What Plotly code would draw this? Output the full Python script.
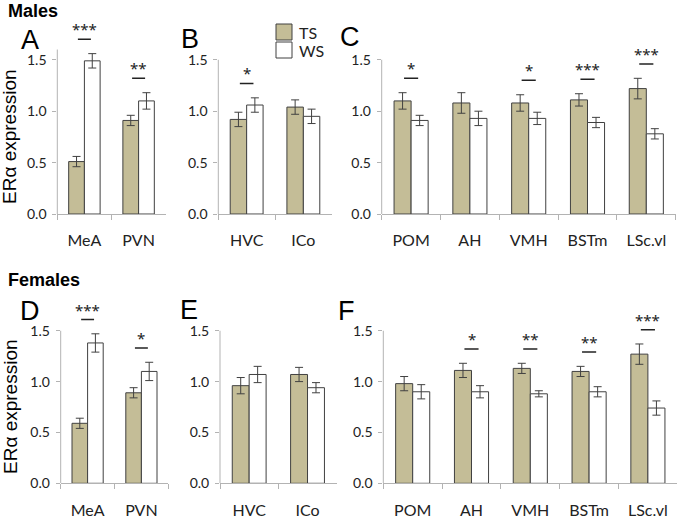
import plotly.graph_objects as go

# ---- data ----
# Males
cats_A = ["MeA", "PVN"]
ts_A = [0.51, 0.91]
ts_err_A = [0.05, 0.05]
ws_A = [1.49, 1.10]
ws_err_A = [0.07, 0.08]
sig_A = ["***", "**"]

cats_B = ["HVC", "ICo"]
ts_B = [0.92, 1.04]
ts_err_B = [0.07, 0.07]
ws_B = [1.06, 0.95]
ws_err_B = [0.07, 0.07]
sig_B = ["*", ""]

cats_C = ["POM", "AH", "VMH", "BSTm", "LSc.vl"]
ts_C = [1.10, 1.08, 1.08, 1.11, 1.22]
ts_err_C = [0.08, 0.10, 0.08, 0.06, 0.10]
ws_C = [0.91, 0.93, 0.93, 0.89, 0.78]
ws_err_C = [0.05, 0.07, 0.06, 0.05, 0.05]
sig_C = ["*", "", "*", "***", "***"]

# Females
cats_D = ["MeA", "PVN"]
ts_D = [0.59, 0.89]
ts_err_D = [0.05, 0.05]
ws_D = [1.38, 1.10]
ws_err_D = [0.09, 0.09]
sig_D = ["***", "*"]

cats_E = ["HVC", "ICo"]
ts_E = [0.96, 1.07]
ts_err_E = [0.08, 0.07]
ws_E = [1.07, 0.94]
ws_err_E = [0.08, 0.05]
sig_E = ["", ""]

cats_F = ["POM", "AH", "VMH", "BSTm", "LSc.vl"]
ts_F = [0.98, 1.11, 1.13, 1.10, 1.27]
ts_err_F = [0.07, 0.07, 0.05, 0.05, 0.10]
ws_F = [0.90, 0.90, 0.88, 0.90, 0.74]
ws_err_F = [0.07, 0.06, 0.03, 0.05, 0.07]
sig_F = ["", "*", "**", "**", "***"]

yticks = [0, 0.5, 1.0, 1.5]

# ---- styling / layout ----
W, H = 680, 521
TS_COLOR = "#C4BD97"
WS_COLOR = "#FFFFFF"
EDGE = "#404040"
AXIS = "#B3B3B3"
TICKFONT = "Lato, Arial, sans-serif"
STARFONT = "Noto Sans, Arial, sans-serif"
ARIAL = "Liberation Sans, Arial, sans-serif"


def px_x(px):
    return px / W


def px_y(py):
    return 1 - py / H


# (letter, data, x domain px, y-zero px, px per unit, axis top value)
panels = [
    ("A", (cats_A, ts_A, ts_err_A, ws_A, ws_err_A, sig_A), (57.3, 165.7), 214.0, 102.8, 1.6),
    ("B", (cats_B, ts_B, ts_err_B, ws_B, ws_err_B, sig_B), (218.3, 331.7), 214.0, 102.8, 1.5),
    ("C", (cats_C, ts_C, ts_err_C, ws_C, ws_err_C, sig_C), (381.7, 675.7), 214.0, 102.8, 1.5),
    ("D", (cats_D, ts_D, ts_err_D, ws_D, ws_err_D, sig_D), (60.7, 168.3), 483.3, 101.7, 1.5),
    ("E", (cats_E, ts_E, ts_err_E, ws_E, ws_err_E, sig_E), (220.0, 336.7), 483.3, 101.7, 1.5),
    ("F", (cats_F, ts_F, ts_err_F, ws_F, ws_err_F, sig_F), (383.3, 677.3), 483.3, 101.7, 1.5),
]
letter_pos = {"A": (30, 40), "B": (190, 39), "C": (350, 37),
              "D": (30, 311), "E": (189, 310), "F": (346, 311)}

YMAX = 2.0

fig = go.Figure()
layout = dict(
    width=W, height=H, autosize=False,
    margin=dict(l=0, r=0, t=0, b=0),
    paper_bgcolor="white", plot_bgcolor="white",
    barmode="group", bargap=0.42, bargroupgap=0,
    showlegend=False,
)
shapes = []
annotations = []


def paper_text(x, y, text, font, **kw):
    d = dict(x=px_x(x), y=px_y(y), xref="paper", yref="paper", text=text,
             showarrow=False, xanchor="center", yanchor="middle", font=font)
    d.update(kw)
    annotations.append(d)


for i, (letter, data, xdom, y0px, scale, ytop) in enumerate(panels, start=1):
    cats, ts, ts_err, ws, ws_err, sig = data
    xa = "x" if i == 1 else f"x{i}"
    ya = "y" if i == 1 else f"y{i}"
    err_style = dict(type="data", color=EDGE, thickness=1, width=4)

    fig.add_trace(go.Bar(
        x=cats, y=ts, name="TS", xaxis=xa, yaxis=ya,
        marker=dict(color=TS_COLOR, line=dict(color=EDGE, width=1)),
        error_y=dict(array=ts_err, **err_style),
    ))
    fig.add_trace(go.Bar(
        x=cats, y=ws, name="WS", xaxis=xa, yaxis=ya,
        marker=dict(color=WS_COLOR, line=dict(color=EDGE, width=1)),
        error_y=dict(array=ws_err, **err_style),
    ))

    ydom = [px_y(y0px), px_y(y0px - YMAX * scale)]
    layout["xaxis" if i == 1 else f"xaxis{i}"] = dict(
        domain=[px_x(xdom[0]), px_x(xdom[1])],
        anchor=ya, type="category",
        showline=True, linecolor=AXIS, linewidth=1,
        ticks="outside", tickson="boundaries", ticklen=5, tickcolor=AXIS,
        showgrid=False, zeroline=False,
        tickfont=dict(family=TICKFONT, size=16, color="#222"),
        ticklabelstandoff=12, automargin=False, fixedrange=True,
    )
    layout["yaxis" if i == 1 else f"yaxis{i}"] = dict(
        domain=ydom, anchor=xa, range=[0, YMAX],
        showline=False, showgrid=False, zeroline=False,
        tickvals=yticks, tickformat=".1f",
        ticks="outside", ticklen=4, tickcolor=AXIS,
        tickfont=dict(family=TICKFONT, size=14, color="#222"),
        ticklabelstandoff=3, automargin=False, fixedrange=True,
    )
    # y axis line only up to the labelled top
    shapes.append(dict(type="line", xref=f"{xa} domain", yref=ya,
                       x0=0, x1=0, y0=0, y1=ytop,
                       line=dict(color=AXIS, width=1)))

    # significance bars and stars
    for j, s in enumerate(sig):
        if not s:
            continue
        top = max(ts[j] + ts_err[j], ws[j] + ws_err[j]) + 0.14
        shapes.append(dict(type="line", xref=xa, yref=ya,
                           x0=j - 0.12, x1=j + 0.12, y0=top, y1=top,
                           line=dict(color="#222", width=1.5)))
        annotations.append(dict(x=j, y=top, xref=xa, yref=ya, text=s,
                                showarrow=False, xanchor="center", yanchor="bottom",
                                yshift=-2,
                                font=dict(family=STARFONT, size=15, color="#222")))

    lx, ly = letter_pos[letter]
    paper_text(lx, ly, letter, dict(family=ARIAL, size=27, color="black"))

# y axis titles
for cy in (137, 407):
    paper_text(10, cy, "ERα expression", dict(family=ARIAL, size=19, color="black"),
               textangle=-90)

# group titles
paper_text(6, 11, "<b>Males</b>", dict(family=ARIAL, size=18, color="black"), xanchor="left")
paper_text(6, 280, "<b>Females</b>", dict(family=ARIAL, size=18, color="black"), xanchor="left")

# legend drawn by hand
for (label, color, yc) in (("TS", TS_COLOR, 32), ("WS", WS_COLOR, 50)):
    shapes.append(dict(type="rect", xref="paper", yref="paper",
                       x0=px_x(276), x1=px_x(292), y0=px_y(yc + 8), y1=px_y(yc - 8),
                       fillcolor=color, line=dict(color=EDGE, width=1)))
    paper_text(297, yc, label, dict(family=TICKFONT, size=16, color="#222"), xanchor="left")

layout["shapes"] = shapes
layout["annotations"] = annotations
fig.update_layout(**layout)

# the page's default body margin would push the figure off the window
fig.write_html("out.html", config={"displayModeBar": False},
               post_script="document.body.style.margin='0';")
